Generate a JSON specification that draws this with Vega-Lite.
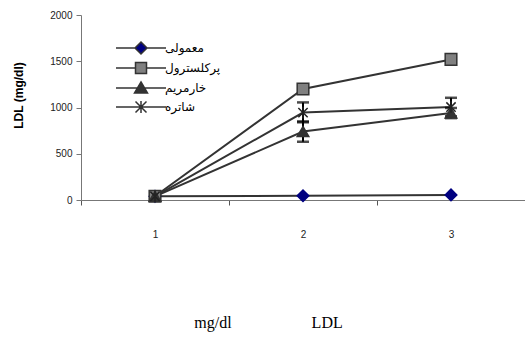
{
  "$schema": "https://vega.github.io/schema/vega-lite/v6.json",
  "width": 444,
  "height": 185,
  "autosize": {"type": "none"},
  "padding": {"left": 81, "top": 15, "right": 0, "bottom": 139},
  "background": "white",
  "config": {
    "view": {"stroke": null},
    "font": "Liberation Sans"
  },
  "data": {
    "values": [
      {"day": "1", "series": "معمولی", "ldl": 40},
      {"day": "2", "series": "معمولی", "ldl": 46},
      {"day": "3", "series": "معمولی", "ldl": 55},
      {"day": "1", "series": "پرکلسترول", "ldl": 40},
      {"day": "2", "series": "پرکلسترول", "ldl": 1200},
      {"day": "3", "series": "پرکلسترول", "ldl": 1520},
      {"day": "1", "series": "خارمریم", "ldl": 40},
      {"day": "2", "series": "خارمریم", "ldl": 740, "lo": 630, "hi": 850},
      {"day": "3", "series": "خارمریم", "ldl": 940, "lo": 885, "hi": 995},
      {"day": "1", "series": "شاتره", "ldl": 40},
      {"day": "2", "series": "شاتره", "ldl": 945, "lo": 840, "hi": 1055},
      {"day": "3", "series": "شاتره", "ldl": 1005, "lo": 905, "hi": 1105}
    ]
  },
  "encoding": {
    "x": {
      "field": "day",
      "type": "ordinal",
      "scale": {"type": "band", "domain": ["1", "2", "3"], "paddingInner": 0, "paddingOuter": 0},
      "axis": {
        "title": "mg/dl\u00a0\u00a0\u00a0\u00a0\u00a0\u00a0\u00a0\u00a0\u00a0\u00a0\u00a0\u00a0\u00a0\u00a0\u00a0\u00a0\u00a0\u00a0\u00a0\u00a0LDL",
        "titleFont": "Liberation Serif",
        "titleFontSize": 16,
        "titleFontWeight": "normal",
        "titleColor": "#000",
        "titleX": 187,
        "titleY": 127,
        "titleAlign": "center",
        "titleBaseline": "alphabetic",
        "labelAngle": 0,
        "labelFontSize": 10,
        "labelColor": "#222",
        "labelPadding": 24,
        "tickBand": "extent",
        "tickSize": 5,
        "tickColor": "#555",
        "domainColor": "#777",
        "grid": false
      }
    },
    "y": {
      "field": "ldl",
      "type": "quantitative",
      "scale": {"domain": [0, 2000], "nice": false},
      "axis": {
        "title": "LDL (mg/dl)",
        "titleFontSize": 12,
        "titleFontWeight": "bold",
        "titleColor": "#000",
        "titleX": -63,
        "titleY": 80,
        "titleBaseline": "middle",
        "titleAngle": -90,
        "values": [0, 500, 1000, 1500, 2000],
        "format": "d",
        "labelFontSize": 10,
        "labelColor": "#222",
        "labelPadding": 4,
        "tickSize": 5,
        "tickColor": "#777",
        "domainColor": "#777",
        "grid": false
      }
    }
  },
  "resolve": {"scale": {"shape": "independent", "fill": "independent", "stroke": "independent"}, "legend": {"shape": "independent", "fill": "independent"}},
  "layer": [
    {
      "mark": {"type": "line", "color": "#333", "strokeWidth": 2},
      "encoding": {"detail": {"field": "series"}}
    },
    {
      "mark": {"type": "rule", "color": "#000", "strokeWidth": 2},
      "encoding": {"y": {"field": "lo", "type": "quantitative"}, "y2": {"field": "hi"}}
    },
    {
      "mark": {"type": "tick", "color": "#000", "thickness": 2.5, "size": 12},
      "encoding": {"y": {"field": "lo", "type": "quantitative"}}
    },
    {
      "mark": {"type": "tick", "color": "#000", "thickness": 2.5, "size": 12},
      "encoding": {"y": {"field": "hi", "type": "quantitative"}}
    },
    {
      "mark": {"type": "point", "size": 135, "strokeWidth": 1.5, "opacity": 1},
      "encoding": {
        "shape": {
          "field": "series",
          "scale": {
            "domain": ["معمولی", "پرکلسترول", "خارمریم", "شاتره"],
            "range": ["diamond", "square", "triangle-up", "M-0.8,-0.8L0.8,0.8M-0.8,0.8L0.8,-0.8M0,-1L0,1"]
          },
          "legend": null
        },
        "fill": {
          "field": "series",
          "scale": {
            "domain": ["معمولی", "پرکلسترول", "خارمریم", "شاتره"],
            "range": ["#000080", "#808080", "#333333", "transparent"]
          },
          "legend": null
        },
        "stroke": {
          "field": "series",
          "scale": {
            "domain": ["معمولی", "پرکلسترول", "خارمریم", "شاتره"],
            "range": ["#000080", "#333333", "#333333", "#222222"]
          },
          "legend": null
        }
      }
    },
    {
      "mark": {"type": "point", "size": 0, "opacity": 0, "stroke": "#333", "strokeWidth": 2},
      "encoding": {
        "shape": {
          "field": "series",
          "title": null,
          "scale": {
            "domain": ["معمولی", "پرکلسترول", "خارمریم", "شاتره"],
            "range": [
              "M-2.5,0L-0.6,0M0.6,0L2.5,0M0,-0.6L0.6,0L0,0.6L-0.6,0Z",
              "M-2.5,0L-0.55,0M0.55,0L2.5,0M-0.55,-0.55L0.55,-0.55L0.55,0.55L-0.55,0.55Z",
              "M-2.5,0L-0.35,0M0.35,0L2.5,0M0,-0.6L0.65,0.5L-0.65,0.5Z",
              "M-2.5,0L2.5,0M-0.55,-0.55L0.55,0.55M-0.55,0.55L0.55,-0.55M0,-0.6L0,0.6"
            ]
          },
          "legend": {
            "orient": "none",
            "legendX": 49,
            "legendY": 22,
            "padding": 0,
            "symbolSize": 400,
            "symbolOpacity": 1,
            "labelOffset": 13,
            "labelFont": "DejaVu Sans",
            "labelFontSize": 12,
            "labelColor": "#000",
            "rowPadding": 0,
            "encode": {
              "symbols": {
                "update": {
                  "stroke": {"value": "#333"},
                  "strokeWidth": {"value": 2},
                  "opacity": {"value": 1}
                }
              }
            }
          }
        },
        "fill": {
          "field": "series",
          "title": null,
          "scale": {
            "domain": ["معمولی", "پرکلسترول", "خارمریم", "شاتره"],
            "range": ["#000080", "#808080", "#333333", "transparent"]
          },
          "legend": {
            "orient": "none",
            "legendX": 49,
            "legendY": 22,
            "padding": 0,
            "symbolSize": 400,
            "symbolOpacity": 1,
            "labelOffset": 13,
            "labelFont": "DejaVu Sans",
            "labelFontSize": 12,
            "labelColor": "#000",
            "rowPadding": 0,
            "encode": {
              "symbols": {
                "update": {
                  "stroke": {"value": "#333"},
                  "strokeWidth": {"value": 2},
                  "opacity": {"value": 1}
                }
              }
            }
          }
        }
      }
    }
  ]
}
